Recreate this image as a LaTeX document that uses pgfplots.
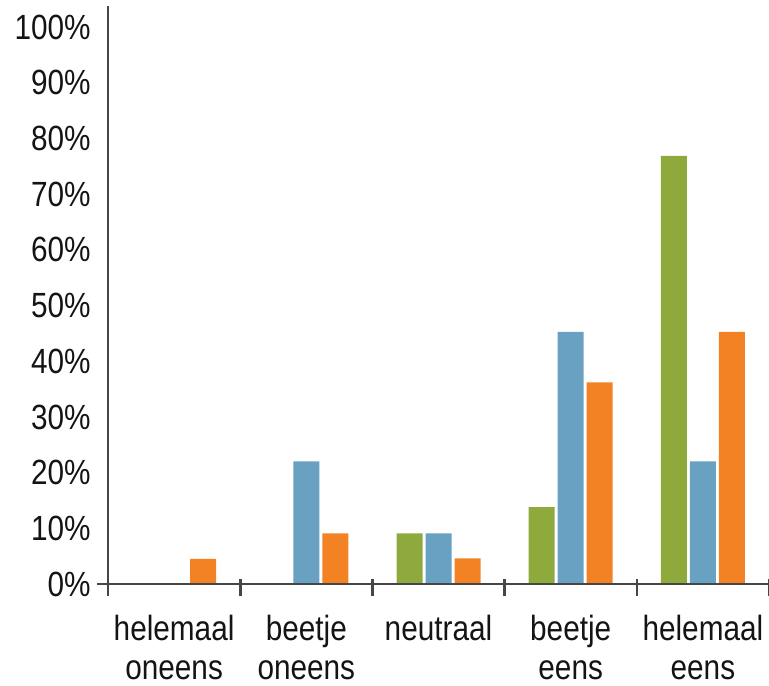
\documentclass[border=0pt]{standalone}
\usepackage{fontspec}
\setmainfont{Liberation Sans}[FakeStretch=0.85]
\usepackage{pgfplots}
\pgfplotsset{compat=1.18}

\definecolor{barGreen}{RGB}{143,170,60}
\definecolor{barBlue}{RGB}{104,161,194}
\definecolor{barOrange}{RGB}{243,130,36}
\definecolor{axisGray}{RGB}{70,70,70}
\definecolor{textDark}{RGB}{20,20,20}

\begin{document}
\begin{tikzpicture}
\begin{axis}[
  scale only axis,
  width=330.5pt, height=289pt,
  xmin=-0.5, xmax=4.5,
  ymin=0, ymax=103.8,
  axis lines=left,
  axis on top,
  x axis line style={-, line width=1.2pt, color=axisGray, shorten <=-5.5pt},
  y axis line style={-, line width=1.2pt, color=axisGray},
  ybar=1.5pt, bar width=13pt,
  xtick={0,1,2,3,4},
  xticklabels={helemaal\\oneens, beetje\\oneens, neutraal, beetje\\eens, helemaal\\eens},
  minor xtick={-0.5,0.5,1.5,2.5,3.5,4.5},
  major x tick style={draw=none},
  minor x tick style={line width=1.3pt, color=axisGray, yshift=-1.5pt},
  minor tick length=8.5pt,
  tick align=center,
  ytick={0,10,...,100},
  yticklabels={0\%,10\%,20\%,30\%,40\%,50\%,60\%,70\%,80\%,90\%,100\%},
  major y tick style={draw=none},
  tick label style={font=\fontsize{17.5}{19.5}\selectfont, text=textDark},
  xticklabel style={align=center, yshift=-10pt},
  yticklabel style={xshift=-3pt},
  clip=false,
]
\addplot[fill=barGreen, draw=none]
  coordinates {(0,0) (1,0) (2,9.1) (3,13.8) (4,76.9)};
\addplot[fill=barBlue, draw=none]
  coordinates {(0,0) (1,22.0) (2,9.1) (3,45.3) (4,22.0)};
\addplot[fill=barOrange, draw=none]
  coordinates {(0,4.5) (1,9.1) (2,4.6) (3,36.2) (4,45.3)};
\end{axis}
\pgfresetboundingbox
\path[use as bounding box] (-54pt,-50.5pt) rectangle (330.5pt,292pt);
\end{tikzpicture}
\end{document}
